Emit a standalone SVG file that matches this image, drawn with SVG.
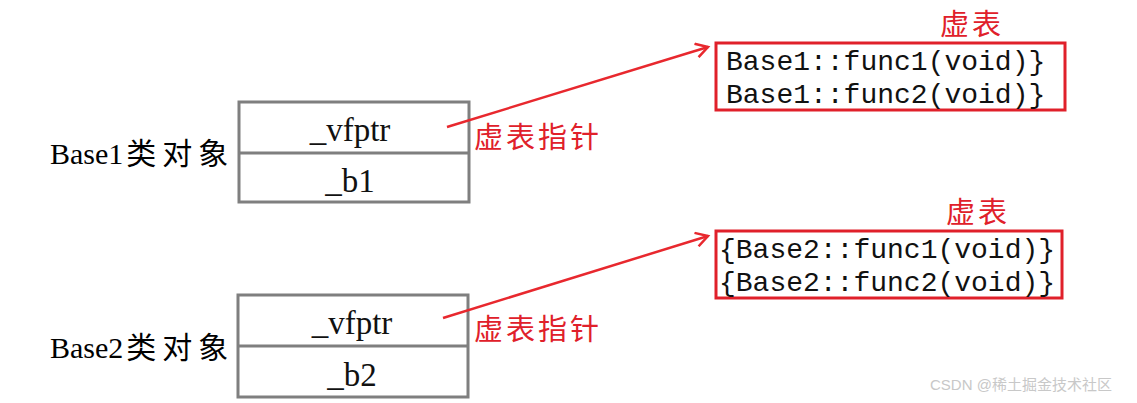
<svg xmlns="http://www.w3.org/2000/svg" width="1137" height="403" viewBox="0 0 1137 403">
<style>
.box{fill:none;stroke:#7f7f7f;stroke-width:3}
.tbl{fill:none;stroke:#e0202a;stroke-width:3}
.lbl{font-family:"Liberation Serif","Noto Sans CJK SC",serif;font-size:30px;fill:#000}
.cj{letter-spacing:6px}
.cell{font-family:"Liberation Serif",serif;font-size:33px;fill:#111;text-anchor:middle}
.mono{font-family:"Liberation Mono",monospace;font-size:28px;fill:#111}
.red{font-family:"Noto Sans CJK SC",sans-serif;font-size:29px;fill:#e0202a;letter-spacing:3px}
.conn{stroke:#e8282e;stroke-width:2.5;fill:none}
</style>
<defs>
<marker id="arr" markerWidth="16" markerHeight="16" refX="13" refY="8" orient="auto" markerUnits="userSpaceOnUse">
<path d="M1,1 L13,8 L1,15" fill="none" stroke="#e8282e" stroke-width="2.5"/>
</marker>
</defs>
<rect width="1137" height="403" fill="#fff"/>
<g id="obj1">
<text class="lbl" x="50" y="164">Base1<tspan class="cj" dx="3">类对象</tspan></text>
<rect class="box" x="239" y="102" width="230" height="100"/>
<line class="box" x1="239" y1="153" x2="469" y2="153"/>
<text class="cell" x="350" y="141">_vfptr</text>
<text class="cell" x="350" y="192">_b1</text>
</g>
<g id="obj2">
<text class="lbl" x="50" y="358">Base2<tspan class="cj" dx="3">类对象</tspan></text>
<rect class="box" x="238" y="295" width="230" height="102"/>
<line class="box" x1="238" y1="346" x2="468" y2="346"/>
<text class="cell" x="352" y="334">_vfptr</text>
<text class="cell" x="352" y="386">_b2</text>
</g>
<g id="vtable1">
<text class="red" x="940" y="35">虚表</text>
<rect class="tbl" x="716" y="43" width="349" height="67"/>
<text class="mono" x="726" y="70">Base1::func1(void)}</text>
<text class="mono" x="726" y="103">Base1::func2(void)}</text>
</g>
<g id="vtable2">
<text class="red" x="946" y="223">虚表</text>
<rect class="tbl" x="716" y="231" width="346" height="67"/>
<text class="mono" x="719" y="258">{Base2::func1(void)}</text>
<text class="mono" x="719" y="291">{Base2::func2(void)}</text>
</g>
<g id="connectors">
<line class="conn" x1="447" y1="127" x2="708" y2="47" marker-end="url(#arr)"/>
<line class="conn" x1="443" y1="318" x2="708" y2="236" marker-end="url(#arr)"/>
<text class="red" x="474" y="148">虚表指针</text>
<text class="red" x="474" y="340">虚表指针</text>
</g>
<text x="930" y="390" font-family="Liberation Sans,Noto Sans CJK SC,sans-serif" font-size="15" fill="#c8c8c8">CSDN @稀土掘金技术社区</text>
</svg>
